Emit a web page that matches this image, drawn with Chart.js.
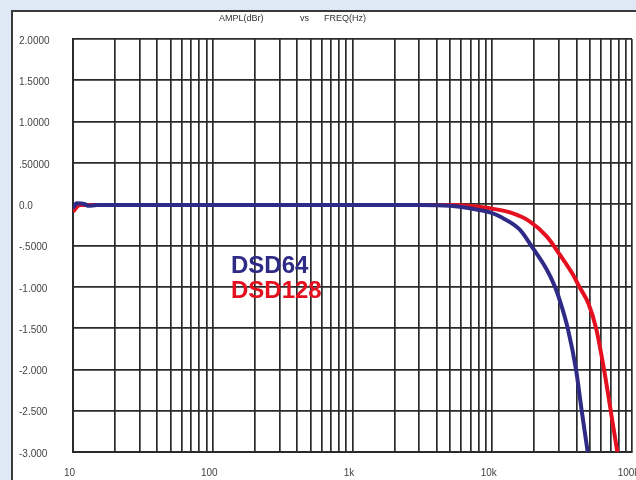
<!DOCTYPE html>
<html>
<head>
<meta charset="utf-8">
<script src="https://cdn.jsdelivr.net/npm/chart.js@4.4.1/dist/chart.umd.min.js"></script>
<style>
  html, body { margin: 0; padding: 0; background: #dfe9f5; }
  #wrap { width: 636px; height: 480px; position: relative; }
  canvas { display: block; }
</style>
</head>
<body>
<div id="wrap"><canvas id="c" width="636" height="480"></canvas></div>
<script>
// Frequency response, amplitude in dBr against frequency in Hz
const freqDSD64 = [10, 10.6, 12.2, 12.9, 14.8, 100, 1000, 3000, 5000, 6930, 9630, 11350, 15800, 19150, 24530, 28100, 30900, 34670, 39740, 43650, 48200];
const ampDSD64  = [-0.05, 0.01, 0.0, -0.02, -0.01, -0.01, -0.01, -0.01, -0.02, -0.05, -0.10, -0.15, -0.31, -0.51, -0.79, -1.0, -1.2, -1.5, -2.0, -2.5, -3.0];

const freqDSD128 = [10, 11.2, 100, 1000, 5000, 9630, 13400, 18620, 24530, 30540, 38020, 42000, 48700, 55300, 63060, 70430, 78500];
const ampDSD128  = [-0.09, -0.01, -0.01, -0.01, -0.01, -0.05, -0.1, -0.21, -0.39, -0.615, -0.86, -1.0, -1.2, -1.5, -2.0, -2.5, -3.0];

const seriesNames = ['DSD64', 'DSD128'];
const seriesColors = ['#2e2a86', '#e5101f'];

const yTickValues = [2, 1.5, 1, 0.5, 0, -0.5, -1, -1.5, -2, -2.5, -3];
const yTickLabels = ['2.0000', '1.5000', '1.0000', '.50000', '0.0', '-.5000', '-1.000', '-1.500', '-2.000', '-2.500', '-3.000'];

const xTickValues = [10, 100, 1000, 10000, 100000];
const xTickLabels = ['10', '100', '1k', '10k', '100k'];

const titleParts = ['AMPL(dBr)', 'vs', 'FREQ(Hz)'];

const toPoints = (xs, ys) => xs.map((x, i) => ({ x: x, y: ys[i] }));

const gridColor = '#2a2a2a';
const tickFont = { family: '"Liberation Sans", Arial, sans-serif', size: 10 };

// White panel with dark top/left edge, plus the header text
const framePlugin = {
  id: 'frame',
  beforeDraw(chart) {
    const ctx = chart.ctx;
    ctx.save();
    ctx.fillStyle = '#dfe9f5';
    ctx.fillRect(0, 0, chart.width, chart.height);
    ctx.fillStyle = '#ffffff';
    ctx.fillRect(12, 10, chart.width - 12, chart.height - 10);
    ctx.strokeStyle = '#3a3a3a';
    ctx.lineWidth = 2;
    ctx.beginPath();
    ctx.moveTo(12, chart.height);
    ctx.lineTo(12, 11);
    ctx.lineTo(chart.width, 11);
    ctx.stroke();

    ctx.fillStyle = '#333333';
    ctx.font = '9px "Liberation Sans", Arial, sans-serif';
    ctx.textBaseline = 'middle';
    ctx.textAlign = 'left';
    const xs = [219, 300, 324];
    titleParts.forEach((t, i) => ctx.fillText(t, xs[i], 19));
    ctx.restore();
  }
};

// Series names written inside the plot in their line colours
const seriesLabelPlugin = {
  id: 'seriesLabels',
  afterDatasetsDraw(chart) {
    const ctx = chart.ctx;
    ctx.save();
    ctx.font = 'bold 24px "Liberation Sans", Arial, sans-serif';
    ctx.textAlign = 'left';
    ctx.textBaseline = 'alphabetic';
    const baselines = [273, 298];
    chart.data.datasets.forEach((ds, i) => {
      ctx.fillStyle = ds.borderColor;
      ctx.fillText(ds.label, 231, baselines[i]);
    });
    ctx.restore();
  }
};

new Chart(document.getElementById('c'), {
  type: 'line',
  data: {
    datasets: [
      {
        label: seriesNames[0],
        data: toPoints(freqDSD64, ampDSD64),
        borderColor: seriesColors[0],
        borderWidth: 4,
        pointRadius: 0,
        fill: false,
        order: 0,
        cubicInterpolationMode: 'monotone'
      },
      {
        label: seriesNames[1],
        data: toPoints(freqDSD128, ampDSD128),
        borderColor: seriesColors[1],
        borderWidth: 4,
        pointRadius: 0,
        fill: false,
        order: 1,
        cubicInterpolationMode: 'monotone'
      }
    ]
  },
  options: {
    responsive: false,
    animation: false,
    devicePixelRatio: 1,
    layout: { padding: { left: 19, right: 4, top: 39, bottom: 0 } },
    plugins: {
      legend: { display: false },
      title: { display: false },
      tooltip: { enabled: false }
    },
    scales: {
      x: {
        type: 'logarithmic',
        position: 'bottom',
        min: 10,
        max: 100000,
        afterBuildTicks(scale) {
          const t = [];
          for (let e = 1; e < 5; e++) {
            for (let m = 1; m < 10; m++) t.push({ value: m * Math.pow(10, e) });
          }
          t.push({ value: 100000 });
          scale.ticks = t;
        },
        afterFit(scale) {
          scale.height = 28;
          scale.paddingLeft = 0;
          scale.paddingRight = 0;
        },
        ticks: {
          autoSkip: false,
          maxRotation: 0,
          minRotation: 0,
          padding: 15,
          labelOffset: -3.5,
          color: '#444444',
          font: tickFont,
          callback(v) {
            const i = xTickValues.indexOf(v);
            return i >= 0 ? xTickLabels[i] : '';
          }
        },
        grid: { color: gridColor, lineWidth: 1.7, drawTicks: false },
        border: { color: gridColor, width: 2 }
      },
      y: {
        position: 'left',
        min: -3,
        max: 2,
        afterBuildTicks(scale) {
          scale.ticks = yTickValues.map(v => ({ value: v }));
        },
        afterFit(scale) {
          scale.width = 54;
          scale.paddingTop = 0;
          scale.paddingBottom = 0;
        },
        ticks: {
          autoSkip: false,
          crossAlign: 'far',
          labelOffset: 2,
          color: '#444444',
          font: tickFont,
          callback(v) {
            const i = yTickValues.indexOf(v);
            return i >= 0 ? yTickLabels[i] : '';
          }
        },
        grid: { color: gridColor, lineWidth: 1.7, drawTicks: false },
        border: { color: gridColor, width: 2 }
      }
    }
  },
  plugins: [framePlugin, seriesLabelPlugin]
});
</script>
</body>
</html>
